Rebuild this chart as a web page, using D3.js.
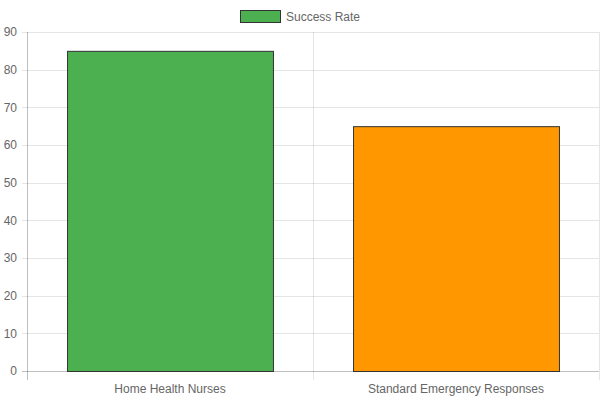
<!DOCTYPE html>
<html>
<head>
<meta charset="utf-8">
<script src="https://cdn.jsdelivr.net/npm/d3@7"></script>
<style>
  body { margin: 0; background: #fff; }
  text { font-family: "Liberation Sans", Arial, sans-serif; }
</style>
</head>
<body>
<div id="chart"></div>
<script>
var categories = ["Home Health Nurses", "Standard Emergency Responses"];
var values = [85, 65];
var colors = ["#4caf50", "#ff9800"];
var seriesName = "Success Rate";
var yTicks = [0, 10, 20, 30, 40, 50, 60, 70, 80, 90];

var width = 600;
var height = 400;
var plotLeft = 27, plotRight = 599, plotTop = 32, plotBottom = 371;

var svg = d3.select("#chart")
  .append("svg")
    .attr("width", width)
    .attr("height", height);

var x = d3.scaleBand()
  .domain(categories)
  .range([plotLeft, plotRight])
  .paddingInner(0)
  .paddingOuter(0);

var y = d3.scaleLinear()
  .domain([0, 90])
  .range([plotBottom, plotTop]);

// horizontal grid + y ticks
svg.append("g")
  .selectAll("line")
  .data(yTicks)
  .enter()
  .append("line")
    .attr("x1", plotLeft - 5)
    .attr("x2", plotRight)
    .attr("y1", function(d) { return Math.round(y(d)) + 0.5; })
    .attr("y2", function(d) { return Math.round(y(d)) + 0.5; })
    .attr("stroke", function(d) { return d === 0 ? "rgba(0,0,0,0.25)" : "rgba(0,0,0,0.1)"; });

svg.append("g")
  .selectAll("text")
  .data(yTicks)
  .enter()
  .append("text")
    .attr("x", plotLeft - 10)
    .attr("y", function(d) { return y(d); })
    .attr("dy", "0.35em")
    .attr("text-anchor", "end")
    .attr("font-size", 12)
    .attr("fill", "#666")
    .text(function(d) { return d; });

// vertical grid lines at category boundaries
var xLines = [plotLeft, plotLeft + x.bandwidth(), plotRight];
svg.append("g")
  .selectAll("line")
  .data(xLines)
  .enter()
  .append("line")
    .attr("x1", function(d) { return Math.round(d) + 0.5; })
    .attr("x2", function(d) { return Math.round(d) + 0.5; })
    .attr("y1", plotTop)
    .attr("y2", plotBottom + 9)
    .attr("stroke", function(d, i) { return i === 0 ? "rgba(0,0,0,0.25)" : "rgba(0,0,0,0.1)"; });

// bars
var barW = x.bandwidth() * 0.72;
svg.append("g")
  .selectAll("rect")
  .data(values)
  .enter()
  .append("rect")
    .attr("x", function(d, i) { return x(categories[i]) + (x.bandwidth() - barW) / 2 + 0.5; })
    .attr("y", function(d) { return y(d) + 0.5; })
    .attr("width", barW)
    .attr("height", function(d) { return y(0) - y(d); })
    .attr("fill", function(d, i) { return colors[i]; })
    .attr("stroke", "#333")
    .attr("stroke-width", 1);

// x labels
svg.append("g")
  .selectAll("text")
  .data(categories)
  .enter()
  .append("text")
    .attr("x", function(d) { return x(d) + x.bandwidth() / 2; })
    .attr("y", 389)
    .attr("dy", "0.35em")
    .attr("text-anchor", "middle")
    .attr("font-size", 12)
    .attr("fill", "#666")
    .text(function(d) { return d; });

// legend
var legend = svg.append("g");
legend.append("rect")
  .attr("x", 240.5)
  .attr("y", 10.5)
  .attr("width", 40)
  .attr("height", 12)
  .attr("fill", colors[0])
  .attr("stroke", "#333");
legend.append("text")
  .attr("x", 286)
  .attr("y", 16.5)
  .attr("dy", "0.35em")
  .attr("font-size", 12)
  .attr("fill", "#666")
  .text(seriesName);
</script>
</body>
</html>
